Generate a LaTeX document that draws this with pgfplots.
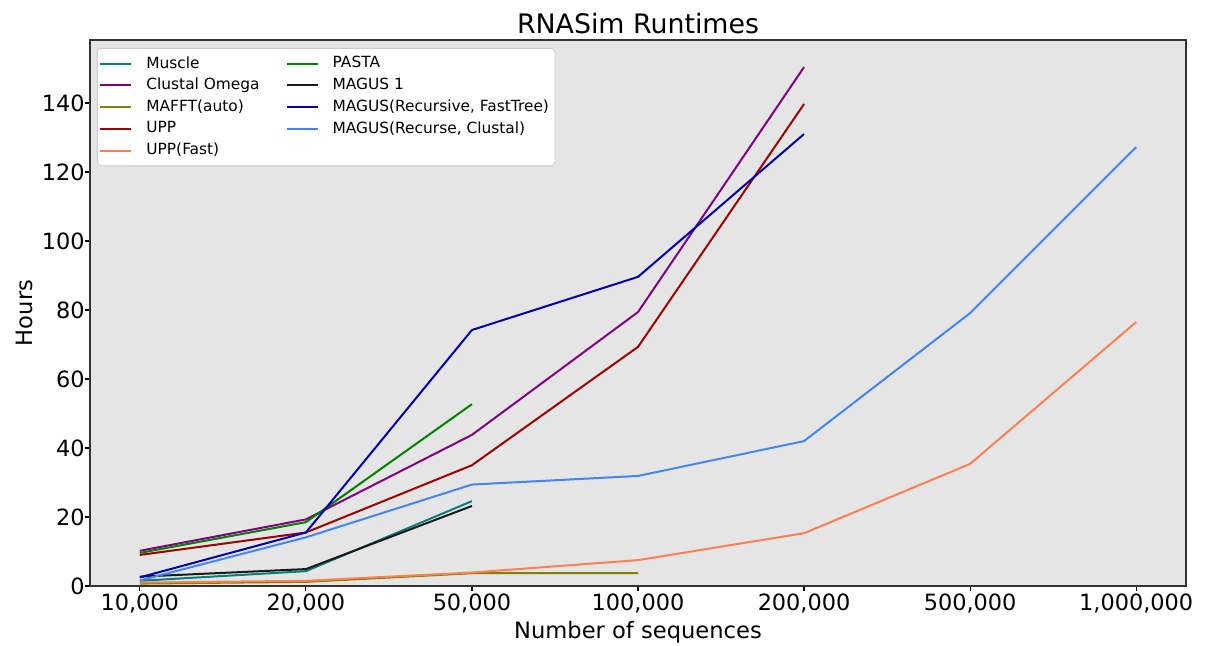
\documentclass[border=0pt]{standalone}
\usepackage{fontspec}
\setmainfont{DejaVu Sans}
\usepackage{pgfplots}
\pgfplotsset{compat=1.18}
\definecolor{axisbg}{HTML}{E5E5E5}
\definecolor{cmuscle}{HTML}{008080}
\definecolor{cclustal}{HTML}{800080}
\definecolor{cmafft}{HTML}{808000}
\definecolor{cupp}{HTML}{9B0000}
\definecolor{cuppfast}{HTML}{FF7F50}
\definecolor{cpasta}{HTML}{008000}
\definecolor{cmagus}{HTML}{1A1A1A}
\definecolor{cmft}{HTML}{0000AA}
\definecolor{cmcl}{HTML}{4285F4}
\begin{document}
\begin{tikzpicture}
\begin{axis}[
  scale only axis, width=548pt, height=273pt,
  xmin=-0.3, xmax=6.3, ymin=0, ymax=158.26,
  axis background/.style={fill=axisbg},
  axis line style={black!80, line width=0.6pt},
  xtick={0,...,6},
  xticklabels={{10,000},{20,000},{50,000},{100,000},{200,000},{500,000},{1,000,000}},
  ytick={0,20,...,140},
  tick align=outside, xtick pos=bottom, ytick pos=left,
  major tick length=2.5pt,
  tick style={black, line width=0.6pt},
  /pgf/number format/assume math mode=true,
  ticklabel style={font=\fontsize{11.2}{13}\selectfont, inner sep=1pt},
  yticklabel style={xshift=1pt},
  title={RNASim Runtimes},
  title style={font=\fontsize{13.4}{15}\selectfont, yshift=-6.5pt},
  xlabel={Number of sequences},
  ylabel={Hours},
  label style={font=\fontsize{11.3}{13}\selectfont},
  xlabel style={yshift=0pt},
  ylabel style={yshift=0pt},
  legend columns=2,
  legend cell align=left,
  legend style={at={(0,1)}, anchor=north west, xshift=3.5pt, yshift=-4pt,
    font=\fontsize{7.7}{8.8}\selectfont, draw=black!20, fill=white, rounded corners=2pt,
    row sep=-0.5pt, inner xsep=1pt, inner ysep=2pt,
    /tikz/every odd column/.append style={column sep=5pt},
    /tikz/every even column/.append style={column sep=11pt}},
  legend image code/.code={\draw[#1, line width=1pt] (0pt,0pt) -- (15.5pt,0pt);},
  every axis plot/.append style={line width=1pt, no marks},
]
\addplot[cmuscle, forget plot] coordinates {(0,1.5)(1,4.3)(2,24.6)};
\addplot[cclustal, forget plot] coordinates {(0,10.2)(1,19.3)(2,43.8)(3,79.4)(4,150.4)};
\addplot[cmafft, forget plot] coordinates {(0,0.7)(1,1.2)(2,3.7)(3,3.7)};
\addplot[cupp, forget plot] coordinates {(0,9.0)(1,15.5)(2,35.0)(3,69.3)(4,139.7)};
\addplot[cuppfast, forget plot] coordinates {(0,1.0)(1,1.5)(2,3.9)(3,7.5)(4,15.3)(5,35.4)(6,76.5)};
\addplot[cpasta, forget plot] coordinates {(0,9.6)(1,18.5)(2,52.7)};
\addplot[cmagus, forget plot] coordinates {(0,2.7)(1,4.9)(2,23.2)};
\addplot[cmft, forget plot] coordinates {(0,2.5)(1,15.5)(2,74.2)(3,89.6)(4,131.0)};
\addplot[cmcl, forget plot] coordinates {(0,1.6)(1,14.1)(2,29.4)(3,31.9)(4,42.0)(5,79.1)(6,127.2)};
\addlegendimage{cmuscle}\addlegendentry{Muscle}
\addlegendimage{cpasta}\addlegendentry{PASTA}
\addlegendimage{cclustal}\addlegendentry{Clustal Omega}
\addlegendimage{cmagus}\addlegendentry{MAGUS 1}
\addlegendimage{cmafft}\addlegendentry{MAFFT(auto)}
\addlegendimage{cmft}\addlegendentry{MAGUS(Recursive, FastTree)}
\addlegendimage{cupp}\addlegendentry{UPP}
\addlegendimage{cmcl}\addlegendentry{MAGUS(Recurse, Clustal)}
\addlegendimage{cuppfast}\addlegendentry{UPP(Fast)}
\end{axis}
\pgfresetboundingbox
\path (current axis.south west) ++(-45pt,-30pt) coordinate (bbA);
\path (current axis.north east) ++(13pt,20pt) coordinate (bbB);
\path (bbA) rectangle (bbB);
\end{tikzpicture}
\end{document}
